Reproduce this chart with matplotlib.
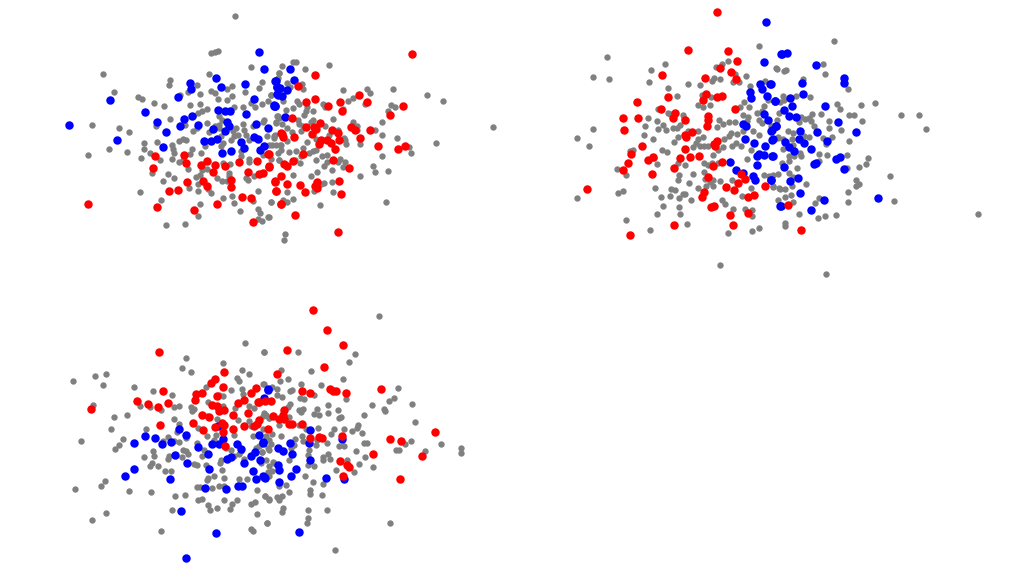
import matplotlib
matplotlib.use("Agg")
import matplotlib.pyplot as plt
import numpy as np

# Values, per crop (3x zoom units); origin of each crop below.
a_blue_l = [(58,375),(181,301),(204,422),(286,337),(323,367),(350,397),(342,443),(387,293),(421,249),(424,269),(404,358),(392,378),(428,349),(446,376),(499,234),(516,261),(588,252),(628,156),(645,207),(613,297),(507,330),(526,335),(543,334),(591,344),(532,368),(538,380),(526,395),(490,388),(503,417),(486,424),(464,424),(517,459),(544,453),(575,427),(584,446),(621,374),(657,384),(613,413),(626,418),(632,450),(674,317),(678,320),(680,245),(682,262),(684,282),(645,440)]
a_red_l = [(115,614),(316,468),(312,505),(403,467),(410,489),(454,495),(472,483),(498,495),(526,500),(490,518),(570,488),(623,484),(657,464),(658,500),(642,519),(628,522),(595,516),(413,547),(462,543),(474,559),(544,563),(545,541),(359,573),(385,571),(322,622),(433,630),(502,612),(578,591),(606,594),(611,668),(680,573),(678,545),(694,612),(694,400)]
a_gray_l = [(557,49),(485,159),(496,158),(506,155),(160,222),(604,201),(480,224),(362,242),(360,256),(443,257),(194,276),(266,293),(279,298),(313,310),(345,318),(392,287),(415,276),(452,282),(486,273),(497,279),(532,269),(548,260),(638,248),(630,266),(588,277),(507,297),(532,302),(549,289),(555,321),(453,313),(423,317),(474,327),(458,335),(447,340),(431,350),(362,357),(127,375),(210,384),(240,398),(320,380),(408,376),(431,393),(444,385),(472,369),(508,350),(518,360),(497,380),(510,385),(180,449),(233,458),(115,466),(275,475),(283,429),(285,449),(301,459),(322,427),(367,437),(372,449),(373,459),(388,425),(401,417),(410,420),(427,448),(423,464),(455,460),(368,478),(333,482),(389,487),(402,482),(417,507),(308,521),(355,524),(373,535),(340,544),(272,578),(336,602),(351,675),(406,673),(445,649),(453,612),(522,596),(547,589),(555,610),(572,635),(612,605),(626,573),(626,627),(633,641),(627,658),(637,664),(657,651),(665,607),(441,532),(451,525),(458,512),(472,508),(503,535),(518,545),(534,545),(540,520),(538,530),(446,552),(420,565),(447,575),(476,568),(484,581),(541,493),(520,490),(597,540),(615,530),(590,535),(575,470),(600,487),(598,477),(640,467),(550,395),(560,385),(565,405),(555,410),(582,373),(585,390),(612,380),(645,360),(642,368),(680,370),(683,348),(618,322),(638,312),(606,310),(582,323),(655,303),(665,285),(690,220),(685,235),(515,410),(516,440),(545,420),(575,455),(590,405),(652,410),(675,410),(660,435),(680,435),(695,435),(686,460),(690,480),(600,420),(520,430),(468,440),(480,398),(510,375)]

a_blue_r = [(61,207),(75,240),(18,244),(22,262),(32,265),(52,271),(25,285),(38,288),(14,318),(17,320),(46,352)]
a_red_r = [(429,164),(137,227),(87,260),(268,285),(293,306),(137,298),(110,306),(211,306),(177,320),(217,335),(401,318),(361,345),(69,356),(245,383),(258,392),(301,391),(151,371),(135,381),(140,388),(110,381),(187,392),(206,400),(128,403),(75,412),(38,402),(42,412),(208,420),(273,416),(155,420),(150,432),(172,420),(185,430),(198,447),(326,440),(385,447),(406,438),(100,464),(0,464),(45,492),(52,500),(72,485),(190,482),(240,506),(0,503),(35,530),(18,547),(52,554),(93,555),(142,547),(136,558),(143,566),(208,543),(21,574),(107,578),(216,582),(35,613),(77,645),(206,697)]
a_gray_r = [(38,198),(71,186),(81,186),(180,197),(106,207),(30,220),(22,238),(97,252),(54,250),(62,262),(100,269),(222,270),(293,268),(302,281),(370,268),(473,285),(520,303),(250,294),(235,305),(287,312),(365,316),(377,323),(356,333),(83,304),(88,312),(40,305),(5,285),(160,312),(167,323),(114,323),(110,333),(72,325),(50,330),(130,333),(104,347),(25,348),(190,357),(220,327),(339,368),(250,366),(262,380),(262,390),(317,390),(671,382),(130,360),(125,368),(85,360),(88,372),(100,378),(20,368),(38,372),(52,385),(68,397),(95,393),(168,378),(207,392),(18,405),(14,415),(52,425),(113,428),(140,418),(178,405),(228,422),(230,434),(272,434),(339,407),(383,415),(499,431),(418,441),(424,461),(338,469),(8,437),(33,435),(35,450),(58,456),(80,453),(102,445),(130,455),(140,450),(118,460),(197,450),(172,465),(158,470),(140,482),(95,470),(78,480),(93,489),(30,480),(5,478),(212,478),(205,487),(227,487),(163,500),(172,488),(220,503),(188,512),(143,517),(125,528),(70,527),(271,528),(312,498),(318,517),(356,514),(165,550),(155,552),(188,547),(192,578),(133,575),(52,577),(42,602),(52,608),(71,599),(5,608),(153,616),(349,606),(0,652),(48,702),(44,720),(225,415),(30,355)]

b_red_l = [(444,38),(356,151),(477,153),(503,185),(484,216),(452,205),(500,237),(279,227),(407,234),(297,292),(410,284),(401,300),(444,293),(459,290),(204,308),(498,328),(160,354),(207,354),(274,327),(318,340),(310,354),(348,362),(163,392),(417,348),(417,362),(413,380),(368,397),(348,405),(350,412),(443,423),(433,432),(437,438),(218,440),(347,448),(185,464),(175,491),(162,510),(237,482),(252,472),(247,522),(315,505),(333,476),(362,473),(390,468),(430,500),(458,488),(516,522),(527,537),(507,551),(415,532),(469,563),(495,572),(587,558),(555,586),(537,593),(405,578),(399,592),(53,567),(425,622),(433,620),(483,646),(535,640),(490,677),(313,676),(183,705)]
b_blue_l = [(590,68),(584,186),(635,162),(573,253),(603,252),(578,268),(541,278),(546,295),(593,290),(618,304),(583,342),(596,362),(621,378),(521,373),(531,380),(606,393),(526,417),(553,429),(587,438),(610,418),(568,462),(562,470),(583,465),(607,468),(562,496),(482,488),(500,510),(521,520),(551,528),(557,542),(632,620),(605,540)]
b_gray_l = [(451,795),(113,173),(70,232),(120,239),(244,210),(286,193),(240,247),(295,264),(322,289),(356,252),(393,256),(570,138),(621,206),(476,185),(457,193),(441,202),(497,222),(529,230),(490,246),(510,247),(435,236),(428,245),(453,237),(543,260),(587,245),(424,293),(398,287),(525,307),(513,322),(539,323),(386,315),(401,322),(423,317),(265,328),(296,340),(303,342),(341,347),(345,356),(236,356),(262,365),(280,375),(267,387),(228,380),(291,392),(310,385),(322,385),(332,375),(70,387),(23,414),(59,438),(225,407),(250,417),(325,412),(313,427),(356,395),(386,393),(402,412),(385,418),(380,430),(372,443),(392,440),(405,440),(417,440),(448,360),(462,372),(478,368),(497,367),(442,382),(522,345),(535,352),(532,365),(486,400),(480,410),(503,402),(465,418),(522,395),(552,395),(570,405),(578,370),(570,360),(585,320),(578,333),(562,340),(595,300),(610,380),(625,415),(460,442),(445,450),(430,465),(488,438),(500,430),(515,440),(545,452),(533,478),(277,450),(294,457),(255,475),(263,493),(348,495),(325,490),(405,490),(415,495),(427,490),(445,490),(142,507),(170,525),(192,450),(182,455),(371,522),(328,526),(325,542),(360,550),(403,518),(407,538),(430,540),(422,548),(453,545),(430,558),(411,558),(385,565),(487,540),(545,565),(583,525),(600,530),(610,560),(630,566),(257,564),(304,568),(318,570),(146,579),(162,575),(23,596),(275,591),(302,590),(330,595),(342,582),(348,583),(366,600),(280,620),(330,621),(333,642),(262,644),(171,662),(241,690),(354,673),(459,600),(467,612),(492,627),(518,590),(527,628),(549,630),(547,648),(475,700),(547,694),(568,684),(625,600)]

b_blue_r = [(37,162),(54,160),(139,196),(225,234),(225,250),(97,250),(5,252),(102,282),(62,295),(18,305),(67,320),(167,320),(44,332),(58,348),(80,351),(206,366),(20,378),(91,393),(8,392),(142,397),(259,398),(8,420),(90,418),(104,430),(48,428),(60,442),(75,453),(124,449),(173,424),(10,469),(200,479),(212,471),(140,490),(133,492),(44,502),(225,508),(86,534),(61,545),(5,540),(91,579),(35,620),(163,600),(326,596),(124,631)]
b_red_r = [(55,616),(96,691)]
b_gray_r = [(194,124),(160,193),(168,222),(22,207),(43,214),(50,210),(100,238),(237,268),(121,293),(42,290),(80,290),(45,300),(32,308),(202,314),(212,328),(275,315),(317,309),(154,342),(127,342),(240,347),(254,345),(395,347),(448,345),(180,364),(277,364),(471,388),(30,340),(95,352),(108,358),(120,355),(125,365),(135,378),(88,367),(22,360),(180,385),(215,390),(55,394),(72,400),(5,380),(25,412),(40,418),(68,417),(105,410),(118,412),(162,415),(189,413),(240,424),(170,434),(40,448),(70,435),(150,463),(173,465),(232,467),(93,460),(95,468),(75,470),(60,470),(58,485),(38,490),(150,484),(295,476),(291,492),(269,501),(232,505),(83,505),(60,520),(72,532),(27,523),(10,525),(361,529),(260,542),(270,553),(260,558),(110,553),(68,558),(10,563),(32,567),(48,567),(237,577),(65,587),(48,591),(150,595),(375,603),(237,607),(136,610),(72,608),(88,644),(147,655),(168,649),(200,645),(626,644),(47,670),(47,680),(171,822)]

c_red_l = [(300,157),(495,218),(467,237),(456,250),(491,263),(311,275),(429,281),(409,283),(408,300),(234,304),(267,313),(296,321),(325,309),(96,328),(590,265),(575,280),(553,300),(535,310),(595,308),(458,316),(473,318),(493,330),(480,335),(473,290),(428,345),(450,353),(520,346),(565,340),(301,375),(401,371),(432,390),(468,383),(487,370),(495,376),(490,397),(520,388),(553,378),(592,372),(585,378),(498,438)]
c_blue_l = [(625,268),(360,388),(379,405),(257,410),(288,414),(223,429),(307,432),(336,427),(348,467),(382,491),(417,442),(445,462),(459,434),(478,434),(491,418),(532,433),(545,447),(516,473),(503,477),(576,470),(586,457),(602,482),(555,490),(449,509),(224,509),(197,528),(333,538),(582,514),(590,538),(613,532),(437,565),(501,567),(536,560),(547,560),(365,633),(469,701),(380,775),(598,405),(610,428),(475,378),(615,295)]
c_gray_l = [(558,130),(615,157),(381,175),(369,204),(395,217),(492,190),(141,222),(106,230),(40,244),(130,256),(224,262),(282,273),(337,285),(549,212),(570,224),(532,236),(538,243),(440,262),(514,272),(549,268),(552,282),(478,286),(492,288),(100,315),(241,320),(271,323),(345,321),(358,319),(395,323),(405,328),(398,335),(446,307),(490,320),(613,254),(585,326),(528,325),(568,320),(163,352),(204,345),(306,332),(344,357),(444,350),(472,358),(535,360),(155,389),(260,389),(360,372),(353,397),(415,385),(570,365),(610,350),(620,345),(630,355),(575,380),(66,424),(190,417),(178,435),(166,447),(325,412),(310,425),(345,425),(360,428),(379,415),(442,410),(470,405),(465,420),(525,407),(582,408),(620,410),(630,420),(412,430),(433,450),(372,452),(380,453),(386,462),(254,471),(281,454),(284,470),(330,470),(325,478),(368,472),(428,468),(500,445),(515,450),(545,455),(540,462),(600,440),(590,445),(607,458),(625,445),(278,490),(272,498),(295,498),(404,493),(414,497),(441,495),(486,482),(483,490),(525,470),(555,478),(620,480),(630,500),(317,515),(336,513),(488,511),(627,518),(445,535),(443,540),(463,530),(495,535),(540,537),(563,538),(137,545),(126,558),(48,567),(210,573),(276,578),(412,563),(422,563),(457,564),(479,558),(493,559),(347,589),(377,587),(415,600),(428,598),(594,571),(617,589),(628,600),(493,601),(532,600),(447,615),(451,630),(472,625),(517,613),(513,628),(574,613),(587,607),(592,642),(338,631),(139,641),(99,661),(304,693),(574,688),(582,695),(622,669)]

c_red_r = [(161,32),(203,91),(251,136),(84,152),(193,201),(53,224),(365,269),(127,273),(152,281),(211,269),(221,273),(231,274),(261,280),(17,305),(35,303),(0,308),(75,330),(70,345),(42,350),(60,357),(75,358),(88,373),(97,374),(127,372),(0,362),(25,387),(152,414),(178,412),(187,414),(248,408),(392,419),(425,425),(526,397),(340,464),(488,469),(241,484),(262,496),(268,503),(252,528),(422,538)]
c_blue_r = [(25,270),(153,390),(148,430),(248,417),(93,429),(57,446),(70,453),(97,464),(10,430),(57,495),(59,511),(110,508),(95,528),(152,480),(10,530),(17,535),(60,547),(199,536),(253,539),(120,697)]
c_gray_r = [(359,49),(15,157),(115,157),(286,163),(268,187),(65,212),(155,213),(61,245),(85,239),(252,237),(12,253),(37,262),(125,254),(185,257),(415,266),(52,267),(93,273),(98,272),(52,285),(68,292),(165,287),(122,295),(135,298),(261,299),(405,296),(388,305),(338,315),(459,314),(92,312),(85,322),(207,315),(119,330),(130,328),(125,338),(172,327),(163,342),(180,345),(205,341),(237,332),(373,327),(378,335),(314,346),(15,340),(30,355),(90,353),(240,355),(245,352),(467,366),(60,375),(118,377),(140,388),(177,386),(223,387),(216,402),(254,389),(295,376),(293,385),(279,394),(308,400),(10,387),(38,404),(65,408),(108,417),(127,408),(130,423),(172,420),(170,437),(204,430),(20,420),(35,432),(30,450),(105,437),(95,445),(239,439),(254,438),(315,431),(323,431),(454,425),(438,433),(545,434),(418,450),(410,452),(604,445),(604,459),(498,453),(290,455),(8,458),(150,452),(145,465),(190,472),(190,480),(207,464),(212,477),(318,473),(263,481),(300,492),(342,501),(5,490),(40,487),(45,490),(88,480),(147,495),(165,500),(230,511),(284,516),(38,515),(30,530),(138,528),(160,546),(190,553),(80,556),(58,560),(153,570),(152,582),(90,576),(188,587),(17,589),(30,599),(52,592),(67,590),(60,600),(72,625),(68,638),(146,631),(204,631),(147,654),(144,670),(22,669),(392,671),(226,751)]

def merge(left, right, origin_left, origin_right):
    l = np.array(left, float) / 3 + origin_left
    r = np.array(right, float) / 3 + origin_right
    return np.vstack([l, r])

W, H = 1025, 577
fig = plt.figure(figsize=(W / 100, H / 100), dpi=100, facecolor="white")

panels = [
    ((0, 0, 512, 288), (a_gray_l, a_gray_r), (a_blue_l, a_blue_r), (a_red_l, a_red_r), (50, 0), (270, 0)),
    ((512, 0, 1025, 288), (b_gray_l, b_gray_r), (b_blue_l, b_blue_r), (b_red_l, b_red_r), (570, 0), (770, 0)),
    ((0, 288, 512, 577), (c_gray_l, c_gray_r), (c_blue_l, c_blue_r), (c_red_l, c_red_r), (60, 300), (260, 300)),
]
for (x0, y0, x1, y1), gray, blue, red, o_l, o_r in panels:
    ax = fig.add_axes([x0 / W, 1 - y1 / H, (x1 - x0) / W, (y1 - y0) / H])
    ax.set_xlim(x0 + 0.7, x1 + 0.7)
    ax.set_ylim(y1 + 0.5, y0 + 0.5)
    ax.axis("off")
    for pts, col, size, z in ((gray, "gray", 21, 1), (blue, "blue", 37, 2), (red, "red", 37, 3)):
        p = merge(pts[0], pts[1], o_l, o_r)
        ax.scatter(p[:, 0], p[:, 1], s=size, c=col, linewidths=0, zorder=z, clip_on=False)

fig.savefig("out.png", dpi=100, facecolor="white")
